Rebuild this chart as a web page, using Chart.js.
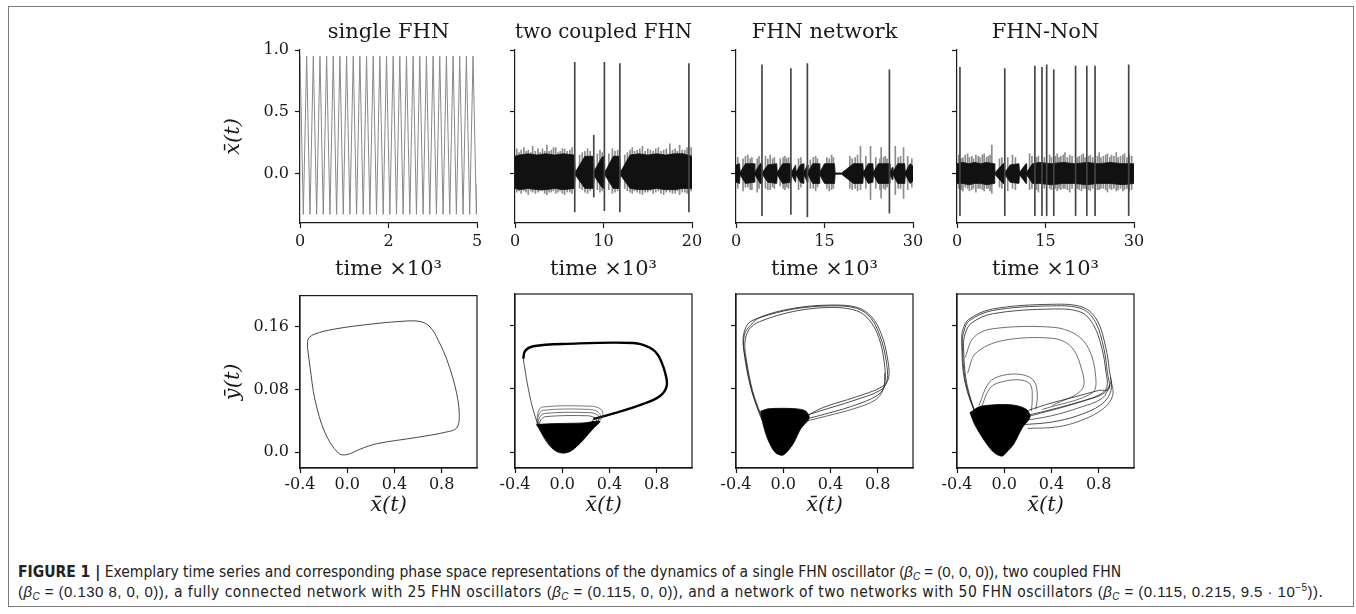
<!DOCTYPE html>
<html>
<head>
<meta charset="utf-8">
<script src="https://cdn.jsdelivr.net/npm/chart.js@4.4.0/dist/chart.umd.min.js"></script>
<style>
  html, body { margin: 0; padding: 0; background: #fff; }
  #page { position: relative; width: 1356px; height: 614px; overflow: hidden; }
  #frame { position: absolute; left: 8px; top: 6px; width: 1346px; height: 601px; box-sizing: border-box; border: 1px solid #7d7d7d; }
  #caption { position: absolute; left: 18px; top: 562px; font-family: "Liberation Sans Narrow", "DejaVu Sans Condensed", sans-serif; font-size: 15.5px; line-height: 20px; color: #222; white-space: nowrap; }
  #caption .l2 { letter-spacing: 0.45px; }
  #caption .m { font-family: "Liberation Sans", "Noto Sans", sans-serif; font-size: 15px; }
  #caption sub { font-size: 10px; vertical-align: -3px; line-height: 0; }
  #caption sup { font-size: 10px; vertical-align: 6px; line-height: 0; }
</style>
</head>
<body>
<div id="page">
  <div id="frame"></div>
  <div id="caption"><b>FIGURE 1 |</b> Exemplary time series and corresponding phase space representations of the dynamics of a single FHN oscillator <span class="m">(<i>β</i><sub><i>C</i></sub> = (0, 0, 0))</span>, two coupled FHN<br><span class="l2"><span class="m">(<i>β</i><sub><i>C</i></sub> = (0.130 8, 0, 0))</span>, a fully connected network with 25 FHN oscillators <span class="m">(<i>β</i><sub><i>C</i></sub> = (0.115, 0, 0))</span>, and a network of two networks with 50 FHN oscillators <span class="m">(<i>β</i><sub><i>C</i></sub> = (0.115, 0.215, 9.5 · 10<sup>−5</sup>))</span>.</span></div>
</div>
<script>
const SERIF = 'DejaVu Serif';
const INK = '#1a1a1a';

// ---- axes ----
const timeTitles = ['single FHN', 'two coupled FHN', 'FHN network', 'FHN-NoN'];
const timeMax = [5, 20, 30, 30];
const timeTicks = [[0, 2.5, 5], [0, 10, 20], [0, 15, 30], [0, 15, 30]];
const timeTickLabels = [['0', '2', '5'], ['0', '10', '20'], ['0', '15', '30'], ['0', '15', '30']];
const xbarTicks = [0, 0.5, 1.0];
const xbarTickLabels = ['0.0', '0.5', '1.0'];
const phaseXTicks = [-0.4, 0, 0.4, 0.8];
const phaseXTickLabels = ['-0.4', '0.0', '0.4', '0.8'];
const phaseYTicks = [0, 0.08, 0.16];
const phaseYTickLabels = ['0.0', '0.08', '0.16'];

// ---- single FHN time series (turning points, time in 10^3) ----
const singlePeakT = [0, 0.188, 0.376, 0.564, 0.752, 0.94, 1.128, 1.316, 1.504, 1.692, 1.88, 2.068, 2.256, 2.444,
  2.632, 2.82, 3.008, 3.196, 3.384, 3.572, 3.76, 3.948, 4.136, 4.324, 4.512, 4.7, 4.888];
const singleTroughT = [0.094, 0.282, 0.47, 0.658, 0.846, 1.034, 1.222, 1.41, 1.598, 1.786, 1.974, 2.162, 2.35, 2.538,
  2.726, 2.914, 3.102, 3.29, 3.478, 3.666, 3.854, 4.042, 4.23, 4.418, 4.606, 4.794, 4.982];
const singleHigh = 0.95;
const singleLow = -0.33;
const singleEnd = [5, -0.085];

// ---- coupled / network time series: [t, upper, lower] of the dense band ----
const coupledBand = [[0, 0.14, -0.12], [0.5, 0.15, -0.13], [1.5, 0.16, -0.12], [2.5, 0.15, -0.13], [3.5, 0.16, -0.13],
  [4.5, 0.15, -0.12], [5.5, 0.16, -0.13], [6.7, 0.15, -0.12], [6.8, 0.01, -0.01], [7.9, 0.14, -0.12], [8.85, 0.14, -0.12],
  [8.95, 0.02, -0.02], [9.8, 0.13, -0.11], [10.05, 0.14, -0.12], [10.15, 0.01, -0.01], [11.1, 0.14, -0.12], [11.8, 0.14, -0.12],
  [11.9, 0.01, -0.01], [13, 0.15, -0.12], [14, 0.16, -0.13], [15, 0.15, -0.13], [16, 0.16, -0.12], [17, 0.15, -0.13],
  [18, 0.16, -0.13], [19, 0.16, -0.12], [20, 0.14, -0.12]];
const coupledWhiskers = [[0.2, 0.2, -0.15], [0.45, 0.17, -0.14], [0.7, 0.19, -0.16], [1.0, 0.21, -0.14], [1.25, 0.18, -0.15],
  [1.5, 0.19, -0.17], [1.8, 0.17, -0.14], [2.0, 0.22, -0.15], [2.3, 0.18, -0.16], [2.6, 0.2, -0.15], [2.85, 0.17, -0.14],
  [3.1, 0.2, -0.14], [3.35, 0.18, -0.16], [3.6, 0.23, -0.17], [3.85, 0.18, -0.15], [4.1, 0.19, -0.15], [4.35, 0.21, -0.14],
  [4.6, 0.21, -0.16], [4.85, 0.17, -0.15], [5.1, 0.18, -0.14], [5.35, 0.2, -0.16], [5.6, 0.2, -0.17], [5.9, 0.18, -0.15],
  [6.2, 0.19, -0.15], [6.45, 0.21, -0.16], [7.3, 0.15, -0.12], [7.6, 0.17, -0.13], [7.9, 0.18, -0.15], [8.2, 0.2, -0.16],
  [8.5, 0.18, -0.14], [9.3, 0.16, -0.13], [9.6, 0.19, -0.15], [9.85, 0.17, -0.14], [10.6, 0.16, -0.13], [11.0, 0.2, -0.16],
  [11.3, 0.18, -0.15], [11.6, 0.19, -0.14], [12.4, 0.15, -0.12], [12.7, 0.17, -0.14], [13.0, 0.19, -0.15], [13.25, 0.21, -0.16],
  [13.5, 0.18, -0.14], [13.8, 0.19, -0.15], [14.1, 0.2, -0.16], [14.4, 0.22, -0.17], [14.7, 0.18, -0.15], [15.0, 0.2, -0.15],
  [15.3, 0.19, -0.14], [15.6, 0.18, -0.16], [15.9, 0.2, -0.15], [16.2, 0.21, -0.14], [16.5, 0.18, -0.16], [16.8, 0.19, -0.17],
  [17.1, 0.2, -0.15], [17.5, 0.24, -0.15], [17.8, 0.19, -0.16], [18.1, 0.2, -0.16], [18.35, 0.18, -0.14], [18.6, 0.23, -0.17],
  [18.9, 0.19, -0.15], [19.2, 0.19, -0.15], [19.45, 0.21, -0.16], [19.9, 0.21, -0.14]];
const coupledSpikes = [[6.75, 0.9, -0.31], [8.9, 0.31, -0.19], [10.1, 0.9, -0.3], [11.85, 0.89, -0.31], [19.65, 0.89, -0.31]];

const networkBand = [[0, 0.07, -0.07], [0.6, 0.08, -0.08], [0.7, 0.01, -0.01], [1.6, 0.08, -0.08], [3.1, 0.08, -0.07],
  [3.2, 0.01, -0.01], [4.1, 0.08, -0.08], [4.4, 0.08, -0.08], [4.5, 0.01, -0.01], [5.4, 0.07, -0.07], [6.9, 0.08, -0.08],
  [7.0, 0.01, -0.01], [7.9, 0.08, -0.08], [9.3, 0.08, -0.07], [9.4, 0.01, -0.01], [10.1, 0.07, -0.07], [10.2, 0.01, -0.01],
  [10.9, 0.07, -0.07], [11.4, 0.08, -0.08], [11.5, 0.01, -0.01], [12.1, 0.07, -0.07], [12.2, 0.01, -0.01], [13.0, 0.08, -0.08],
  [14.1, 0.08, -0.08], [14.2, 0.01, -0.01], [15.0, 0.08, -0.08], [16.7, 0.08, -0.08], [16.8, 0.005, -0.005], [17.9, 0.005, -0.005],
  [19.9, 0.08, -0.08], [21.5, 0.08, -0.08], [21.6, 0.01, -0.01], [22.4, 0.08, -0.08], [23.2, 0.08, -0.07], [23.3, 0.01, -0.01],
  [24.1, 0.08, -0.08], [26.0, 0.08, -0.08], [26.1, 0.01, -0.01], [26.5, 0.05, -0.05], [26.6, 0.01, -0.01], [27.4, 0.08, -0.08],
  [28.6, 0.08, -0.08], [28.7, 0.01, -0.01], [29.5, 0.08, -0.08], [30, 0.06, -0.06]];
const networkWhiskers = [[0.3, 0.13, -0.12], [1.2, 0.12, -0.14], [1.6, 0.14, -0.11], [2.0, 0.15, -0.11], [2.4, 0.12, -0.13],
  [2.7, 0.13, -0.13], [3.6, 0.12, -0.15], [3.9, 0.14, -0.12], [5.0, 0.14, -0.12], [5.4, 0.12, -0.13], [5.8, 0.15, -0.13],
  [6.2, 0.12, -0.11], [6.5, 0.13, -0.12], [7.5, 0.12, -0.1], [8.0, 0.13, -0.12], [8.3, 0.14, -0.13], [8.6, 0.12, -0.11],
  [8.9, 0.13, -0.12], [10.6, 0.12, -0.13], [11.0, 0.13, -0.11], [12.6, 0.11, -0.12], [13.1, 0.13, -0.12], [13.5, 0.14, -0.14],
  [13.8, 0.12, -0.11], [15.4, 0.13, -0.12], [15.8, 0.12, -0.14], [16.2, 0.15, -0.13], [16.5, 0.13, -0.12], [19.3, 0.14, -0.12],
  [19.7, 0.12, -0.13], [20.2, 0.13, -0.12], [20.6, 0.15, -0.14], [21.1, 0.22, -0.13], [22.0, 0.14, -0.12], [22.8, 0.22, -0.21],
  [23.7, 0.13, -0.12], [24.4, 0.12, -0.13], [24.6, 0.21, -0.2], [25.0, 0.13, -0.12], [25.3, 0.14, -0.13], [25.6, 0.12, -0.11],
  [27.0, 0.22, -0.17], [27.5, 0.13, -0.12], [27.9, 0.14, -0.12], [28.4, 0.21, -0.2], [29.1, 0.14, -0.13], [29.8, 0.12, -0.11]];
const networkSpikes = [[4.4, 0.88, -0.34], [9.3, 0.85, -0.33], [12.1, 0.89, -0.35], [26.0, 0.84, -0.32]];

const nonBand = [[0, 0.08, -0.08], [1, 0.09, -0.08], [2, 0.08, -0.09], [3, 0.09, -0.08], [4, 0.08, -0.08], [5, 0.09, -0.09],
  [6.3, 0.08, -0.08], [6.4, 0.005, -0.005], [7.8, 0.08, -0.08], [8.05, 0.08, -0.08], [8.15, 0.01, -0.01], [9.0, 0.07, -0.07],
  [10.5, 0.08, -0.08], [10.6, 0.01, -0.01], [11.7, 0.08, -0.08], [11.8, 0.01, -0.01], [12.8, 0.08, -0.08], [14, 0.09, -0.08],
  [16, 0.08, -0.09], [18, 0.09, -0.08], [20, 0.08, -0.08], [22, 0.09, -0.09], [24, 0.08, -0.08], [26, 0.09, -0.08],
  [28, 0.08, -0.09], [30, 0.08, -0.08]];
const nonWhiskers = [[0.3, 0.15, -0.12], [0.7, 0.12, -0.13], [1.0, 0.13, -0.14], [1.4, 0.15, -0.11], [1.8, 0.16, -0.12],
  [2.1, 0.13, -0.14], [2.5, 0.14, -0.13], [2.8, 0.12, -0.12], [3.2, 0.15, -0.15], [3.6, 0.14, -0.12], [3.9, 0.13, -0.12],
  [4.3, 0.15, -0.13], [4.6, 0.16, -0.14], [5.0, 0.13, -0.12], [5.3, 0.14, -0.12], [5.6, 0.15, -0.14], [5.9, 0.23, -0.16],
  [7.2, 0.12, -0.11], [7.6, 0.13, -0.12], [8.6, 0.13, -0.14], [9.4, 0.15, -0.12], [9.9, 0.13, -0.13], [12.3, 0.16, -0.13],
  [12.7, 0.14, -0.12], [13.5, 0.13, -0.13], [13.8, 0.14, -0.15], [14.8, 0.13, -0.12], [15.7, 0.15, -0.12], [16.0, 0.13, -0.13],
  [16.7, 0.14, -0.12], [17.0, 0.16, -0.14], [17.3, 0.13, -0.12], [17.6, 0.14, -0.13], [18.0, 0.15, -0.12], [18.3, 0.17, -0.12],
  [18.7, 0.13, -0.13], [19.1, 0.15, -0.15], [19.5, 0.14, -0.12], [20.4, 0.13, -0.12], [20.7, 0.14, -0.13], [21.1, 0.15, -0.14],
  [21.4, 0.16, -0.12], [21.7, 0.13, -0.12], [22.3, 0.14, -0.13], [22.6, 0.15, -0.14], [23.0, 0.13, -0.12], [23.8, 0.14, -0.13],
  [24.1, 0.17, -0.13], [24.4, 0.13, -0.12], [24.8, 0.14, -0.12], [25.2, 0.15, -0.13], [25.5, 0.16, -0.15], [25.9, 0.13, -0.12],
  [26.2, 0.15, -0.13], [26.6, 0.14, -0.12], [27.0, 0.17, -0.14], [27.3, 0.13, -0.13], [27.7, 0.14, -0.12], [28.1, 0.15, -0.14],
  [28.4, 0.16, -0.13], [28.8, 0.13, -0.12], [29.2, 0.15, -0.14], [29.6, 0.14, -0.13]];
const nonSpikes = [[0.5, 0.86, -0.34], [8.1, 0.85, -0.34], [13.2, 0.87, -0.34], [14.4, 0.86, -0.34], [15.2, 0.88, -0.34],
  [16.4, 0.84, -0.34], [20.1, 0.87, -0.34], [22.0, 0.87, -0.34], [23.4, 0.87, -0.34], [29.1, 0.88, -0.34]];

// ---- phase portraits: [x, y] ----
const singleLoop = [[-0.337, 0.134], [-0.329, 0.145], [-0.273, 0.151], [-0.118, 0.157], [0.165, 0.163], [0.447, 0.167],
  [0.617, 0.167], [0.702, 0.16], [0.772, 0.143], [0.857, 0.113], [0.928, 0.075], [0.95, 0.046], [0.928, 0.031], [0.843, 0.026],
  [0.589, 0.019], [0.25, 0.011], [0.108, 0.004], [-0.004, -0.003], [-0.075, -0.001], [-0.188, 0.025], [-0.273, 0.067],
  [-0.315, 0.109], [-0.337, 0.134]];

const coupledUpper = [[0.264, 0.042], [0.462, 0.05], [0.687, 0.061], [0.829, 0.071], [0.886, 0.084], [0.871, 0.101],
  [0.815, 0.122], [0.744, 0.132], [0.603, 0.138], [0.038, 0.137], [-0.245, 0.134], [-0.315, 0.128], [-0.33, 0.118]];
const coupledLower = [[-0.33, 0.118], [-0.287, 0.08], [-0.231, 0.046], [-0.146, 0.016], [-0.061, 0.002], [0.01, -0.001],
  [0.094, 0.004], [0.208, 0.021], [0.264, 0.042]];
const coupledBlob = [[-0.216, 0.035], [-0.161, 0.021], [-0.076, 0.004], [0.01, -0.001], [0.08, 0.002], [0.179, 0.016],
  [0.264, 0.03], [0.32, 0.039], [0.179, 0.037], [-0.104, 0.036], [-0.216, 0.035]];
const coupledArcA = [[-0.215, 0.033], [-0.205, 0.05], [-0.17, 0.057], [0.25, 0.058], [0.33, 0.054], [0.345, 0.046], [0.32, 0.04]];
const coupledArcB = [[-0.21, 0.033], [-0.2, 0.047], [-0.16, 0.053], [0.24, 0.054], [0.31, 0.05], [0.325, 0.044], [0.3, 0.039]];
const coupledArcC = [[-0.205, 0.033], [-0.19, 0.044], [-0.15, 0.049], [0.23, 0.05], [0.3, 0.047], [0.31, 0.042], [0.29, 0.037]];
const coupledArcD = [[-0.2, 0.033], [-0.18, 0.041], [-0.14, 0.045], [0.22, 0.046], [0.28, 0.043], [0.29, 0.039], [0.28, 0.035]];

const networkStrandA = [[0.14, 0.044], [0.31, 0.052], [0.59, 0.065], [0.82, 0.078], [0.88, 0.09], [0.87, 0.118], [0.82, 0.147],
  [0.74, 0.17], [0.62, 0.182], [0.4, 0.185], [0.09, 0.181], [-0.2, 0.17], [-0.3, 0.162], [-0.34, 0.143], [-0.32, 0.118],
  [-0.27, 0.08], [-0.2, 0.05], [-0.11, 0.021], [-0.01, 0.0]];
const networkStrandB = [[0.14, 0.04], [0.3, 0.046], [0.58, 0.058], [0.8, 0.072], [0.86, 0.085], [0.855, 0.115], [0.81, 0.145],
  [0.73, 0.167], [0.62, 0.179], [0.4, 0.183], [0.09, 0.178], [-0.2, 0.165], [-0.29, 0.155], [-0.325, 0.138], [-0.31, 0.115],
  [-0.26, 0.078], [-0.19, 0.048], [-0.1, 0.019], [0.0, 0.0]];
const networkStrandC = [[0.15, 0.041], [0.33, 0.056], [0.62, 0.07], [0.84, 0.083], [0.895, 0.095], [0.88, 0.122], [0.83, 0.15],
  [0.75, 0.171], [0.63, 0.183], [0.4, 0.186], [0.09, 0.182], [-0.19, 0.171], [-0.28, 0.16], [-0.33, 0.148], [-0.33, 0.125],
  [-0.28, 0.085], [-0.21, 0.052], [-0.12, 0.022], [-0.02, 0.001]];
const networkStrandD = [[0.16, 0.038], [0.35, 0.045], [0.6, 0.055], [0.78, 0.066], [0.85, 0.08], [0.86, 0.1]];
const networkBlob = [[-0.19, 0.052], [-0.12, 0.055], [0.1, 0.055], [0.19, 0.052], [0.22, 0.043], [0.15, 0.03], [0.09, 0.012],
  [0.03, 0.0], [-0.01, -0.004], [-0.07, 0.0], [-0.13, 0.016], [-0.17, 0.035], [-0.19, 0.052]];

const nonOuterA = [[0.15, 0.05], [0.35, 0.06], [0.6, 0.07], [0.8, 0.078], [0.888, 0.08], [0.874, 0.101], [0.846, 0.13],
  [0.775, 0.164], [0.662, 0.181], [0.408, 0.185], [-0.101, 0.179], [-0.298, 0.166], [-0.341, 0.153], [-0.355, 0.139],
  [-0.326, 0.088], [-0.214, 0.038], [-0.101, 0.008], [-0.016, -0.003]];
const nonOuterB = [[0.15, 0.045], [0.35, 0.052], [0.6, 0.062], [0.8, 0.072], [0.87, 0.082], [0.86, 0.104], [0.83, 0.13],
  [0.76, 0.16], [0.65, 0.177], [0.4, 0.181], [-0.1, 0.175], [-0.28, 0.163], [-0.33, 0.15], [-0.345, 0.135], [-0.315, 0.085],
  [-0.205, 0.036], [-0.095, 0.007], [-0.01, -0.002]];
const nonOuterC = [[0.18, 0.035], [0.4, 0.038], [0.62, 0.046], [0.82, 0.06], [0.905, 0.078], [0.89, 0.105], [0.86, 0.133],
  [0.79, 0.166], [0.67, 0.183], [0.41, 0.187], [-0.1, 0.181], [-0.3, 0.168], [-0.35, 0.155], [-0.36, 0.14], [-0.335, 0.09],
  [-0.22, 0.04], [-0.105, 0.009], [-0.02, -0.004]];
const nonInner1 = [[-0.33, 0.12], [-0.26, 0.145], [-0.101, 0.156], [0.408, 0.158], [0.606, 0.149], [0.719, 0.13], [0.775, 0.096],
  [0.747, 0.075], [0.323, 0.054]];
const nonInner2 = [[-0.31, 0.1], [-0.242, 0.125], [-0.016, 0.141], [0.408, 0.144], [0.563, 0.134], [0.648, 0.109], [0.662, 0.08],
  [0.408, 0.059]];
const nonInner3 = [[-0.214, 0.059], [-0.129, 0.088], [-0.016, 0.097], [0.153, 0.098], [0.253, 0.09], [0.281, 0.071], [0.267, 0.054]];
const nonInner4 = [[-0.2, 0.054], [-0.115, 0.082], [0.012, 0.09], [0.153, 0.091], [0.224, 0.085], [0.238, 0.067], [0.23, 0.052]];
const nonFanA = [[0.2, 0.03], [0.45, 0.032], [0.65, 0.04], [0.84, 0.055], [0.92, 0.072], [0.9, 0.095]];
const nonFanB = [[0.17, 0.04], [0.4, 0.046], [0.63, 0.056], [0.83, 0.068], [0.9, 0.085]];
const nonFanC = [[0.2, 0.045], [0.5, 0.057], [0.7, 0.066], [0.85, 0.075], [0.91, 0.09]];
const nonBlob = [[-0.29, 0.05], [-0.2, 0.058], [0.05, 0.06], [0.18, 0.055], [0.22, 0.045], [0.15, 0.03], [0.08, 0.01],
  [0.02, 0.0], [-0.02, -0.005], [-0.09, 0.0], [-0.17, 0.015], [-0.25, 0.035], [-0.29, 0.05]];

// ---- layout ----
const panelLeft = [300, 515, 736, 957];

const boxPlugin = {
  id: 'box',
  afterDatasetsDraw(chart) {
    const a = chart.chartArea, ctx = chart.ctx;
    ctx.save();
    ctx.strokeStyle = INK;
    ctx.lineWidth = 1.2;
    ctx.strokeRect(a.left, a.top, a.right - a.left, a.bottom - a.top);
    ctx.restore();
  }
};

function makeScale(cfg) {
  return {
    type: 'linear',
    min: cfg.min,
    max: cfg.max,
    offset: false,
    afterFit: s => {
      if (cfg.width) s.width = cfg.width;
      if (cfg.height) s.height = cfg.height;
    },
    afterBuildTicks: s => { s.ticks = cfg.ticks.map(v => ({ value: v })); },
    ticks: {
      display: !!cfg.labels,
      callback: (v, i) => (cfg.labels ? cfg.labels[i] : ''),
      font: { family: SERIF, size: 16 },
      color: INK,
      padding: cfg.pad,
      maxRotation: 0,
      autoSkip: false
    },
    grid: { display: true, drawOnChartArea: false, drawTicks: true, tickLength: 5, tickWidth: 1.2, tickColor: INK, offset: false },
    border: { display: true, color: INK, width: 1.2 },
    title: {
      display: !!cfg.title,
      text: cfg.title || '',
      font: { family: SERIF, size: 21, style: cfg.italic ? 'italic' : 'normal' },
      color: INK,
      padding: { top: 4, bottom: 4 }
    }
  };
}

function addCanvas(left, top, w, h) {
  const c = document.createElement('canvas');
  c.width = w;
  c.height = h;
  c.style.cssText = `position:absolute;left:${left}px;top:${top}px;width:${w}px;height:${h}px`;
  document.getElementById('page').appendChild(c);
  return c;
}

const baseOptions = {
  responsive: false,
  animation: false,
  devicePixelRatio: 1,
  events: []
};

function timeChart(i, datasets) {
  const c = addCanvas(panelLeft[i] - 90, 10, 292, 276);
  return new Chart(c, {
    type: 'scatter',
    data: { datasets },
    options: {
      ...baseOptions,
      layout: { padding: { left: 7, right: 25, top: 0, bottom: 0 } },
      plugins: {
        legend: { display: false },
        tooltip: { enabled: false },
        title: {
          display: true, fullSize: false, text: timeTitles[i],
          font: { family: SERIF, size: 21, weight: 'normal' }, color: INK,
          padding: { top: 10.4, bottom: 4.4 }
        }
      },
      scales: {
        x: makeScale({ min: 0, max: timeMax[i], ticks: timeTicks[i], labels: timeTickLabels[i], title: 'time ×10³', height: 63, pad: 4 }),
        y: makeScale({ min: -0.4, max: 1.0, ticks: xbarTicks, labels: i === 0 ? xbarTickLabels : null,
          title: i === 0 ? 'x̄(t)' : '', italic: true, width: 83, pad: 6 })
      }
    }
  });
}

function phaseChart(i, datasets) {
  const c = addCanvas(panelLeft[i] - 90, 280, 292, 242);
  return new Chart(c, {
    type: 'scatter',
    data: { datasets },
    options: {
      ...baseOptions,
      layout: { padding: { left: 7, right: 25, top: 14, bottom: 0 } },
      plugins: { legend: { display: false }, tooltip: { enabled: false } },
      scales: {
        x: makeScale({ min: -0.4, max: 1.1, ticks: phaseXTicks, labels: phaseXTickLabels, title: 'x̄(t)', italic: true, height: 54, pad: 2 }),
        y: makeScale({ min: -0.02, max: 0.2, ticks: phaseYTicks, labels: i === 0 ? phaseYTickLabels : null,
          title: i === 0 ? 'ȳ(t)' : '', italic: true, width: 83, pad: 6 })
      }
    },
    plugins: [boxPlugin]
  });
}

const toXY = pts => pts.map(p => ({ x: p[0], y: p[1] }));

function strand(pts, width, color) {
  return { data: toXY(pts), showLine: true, pointRadius: 0, borderColor: color || '#222', borderWidth: width, tension: 0.35, fill: false };
}

function blob(pts) {
  return { data: toXY(pts), showLine: true, pointRadius: 0, borderColor: '#000', borderWidth: 0.8, backgroundColor: '#000', fill: 'shape', tension: 0.3 };
}

function bandSets(band, whiskers, spikes) {
  return [
    { data: band.map(b => ({ x: b[0], y: b[1] })), showLine: true, pointRadius: 0, borderColor: '#111', borderWidth: 0.8, fill: false, order: 2 },
    { data: band.map(b => ({ x: b[0], y: b[2] })), showLine: true, pointRadius: 0, borderColor: '#111', borderWidth: 0.8, backgroundColor: '#111', fill: 0, order: 2 },
    { type: 'bar', data: whiskers.map(w => ({ x: w[0], y: [w[2], w[1]] })), backgroundColor: '#8c8c8c', barThickness: 1, grouped: false, order: 3 },
    { type: 'bar', data: spikes.map(s => ({ x: s[0], y: [s[2], s[1]] })), backgroundColor: '#444', barThickness: 1, grouped: false, order: 1 }
  ];
}

// single FHN series from its turning points
const singleSeries = [];
singlePeakT.forEach((t, k) => {
  singleSeries.push({ x: t, y: singleHigh });
  singleSeries.push({ x: singleTroughT[k], y: singleLow });
});
singleSeries.push({ x: singleEnd[0], y: singleEnd[1] });

timeChart(0, [{ data: singleSeries, showLine: true, pointRadius: 0, borderColor: '#888', borderWidth: 1, tension: 0 }]);
timeChart(1, bandSets(coupledBand, coupledWhiskers, coupledSpikes));
timeChart(2, bandSets(networkBand, networkWhiskers, networkSpikes));
timeChart(3, bandSets(nonBand, nonWhiskers, nonSpikes));

phaseChart(0, [strand(singleLoop, 0.9, '#333')]);
phaseChart(1, [
  blob(coupledBlob),
  strand(coupledArcA, 0.7, '#444'), strand(coupledArcB, 0.7, '#444'),
  strand(coupledArcC, 0.7, '#333'), strand(coupledArcD, 0.7, '#222'),
  strand(coupledUpper, 2.4, '#000'), strand(coupledLower, 0.8, '#222')
]);
phaseChart(2, [
  blob(networkBlob),
  strand(networkStrandA, 0.8), strand(networkStrandB, 0.8), strand(networkStrandC, 0.8), strand(networkStrandD, 0.7)
]);
phaseChart(3, [
  blob(nonBlob),
  strand(nonOuterA, 0.8), strand(nonOuterB, 0.8), strand(nonOuterC, 0.8),
  strand(nonInner1, 0.7, '#333'), strand(nonInner2, 0.7, '#333'), strand(nonInner3, 0.7, '#333'), strand(nonInner4, 0.7, '#333'),
  strand(nonFanA, 0.7), strand(nonFanB, 0.7), strand(nonFanC, 0.7)
]);
</script>
</body>
</html>
